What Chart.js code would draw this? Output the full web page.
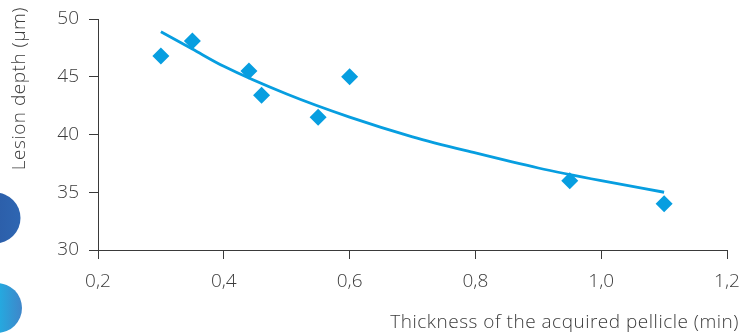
<!DOCTYPE html>
<html>
<head>
<meta charset="utf-8">
<script src="https://cdn.jsdelivr.net/npm/chart.js@4/dist/chart.umd.min.js"></script>
<style>
  html, body { margin: 0; padding: 0; background: #ffffff; }
  #wrap { width: 740px; height: 336px; position: relative; }
</style>
</head>
<body>
<div id="wrap"><canvas id="chart" width="740" height="336"></canvas></div>
<script>
// Measured samples: pellicle thickness vs. lesion depth
const pellicleThickness = [0.30, 0.35, 0.44, 0.46, 0.55, 0.60, 0.95, 1.10];
const lesionDepth       = [46.8, 48.1, 45.5, 43.4, 41.5, 45.0, 36.0, 34.0];

// Trend curve through the samples
const trendThickness = [0.30, 0.35, 0.40, 0.50, 0.60, 0.70, 0.80, 0.90, 1.00, 1.10];
const trendDepth     = [48.9, 47.4, 45.9, 43.5, 41.5, 39.8, 38.4, 37.1, 36.0, 35.0];

// Axis ticks
const xTicks = [0.2, 0.4, 0.6, 0.8, 1.0, 1.2];
const yTicks = [30, 35, 40, 45, 50];

const xTitle = 'Thickness of the acquired pellicle (min)';
const yTitle = 'Lesion depth (µm)';

const BLUE = '#079ee0';
const AXIS = '#3a3a3a';
const TEXT = '#3c3c3c';
const FONT = '"Open Sans", Lato, sans-serif';

const toPoints = (xs, ys) => xs.map((x, i) => ({ x: x, y: ys[i] }));

// Decorative discs at the left edge and the axis titles
const decor = {
  id: 'decor',
  beforeDraw(chart) {
    const ctx = chart.ctx;
    ctx.save();
    let g = ctx.createLinearGradient(-30, 0, 21, 0);
    g.addColorStop(0, '#2a56a0');
    g.addColorStop(1, '#2e66b2');
    ctx.fillStyle = g;
    ctx.beginPath();
    ctx.arc(-5, 218, 25.5, 0, Math.PI * 2);
    ctx.fill();

    g = ctx.createLinearGradient(-28, 0, 22, 0);
    g.addColorStop(0, '#14b6e6');
    g.addColorStop(0.5, '#22ade2');
    g.addColorStop(1, '#3f86c9');
    ctx.fillStyle = g;
    ctx.beginPath();
    ctx.arc(-3, 308, 25, 0, Math.PI * 2);
    ctx.fill();
    ctx.restore();
  },
  afterDraw(chart) {
    const ctx = chart.ctx;
    ctx.save();
    ctx.fillStyle = TEXT;
    ctx.font = '300 19px ' + FONT;
    if ('letterSpacing' in ctx) ctx.letterSpacing = '0.5px';
    ctx.textAlign = 'right';
    ctx.textBaseline = 'alphabetic';
    ctx.fillText(xTitle, 739, 328);

    ctx.translate(25, 7);
    ctx.rotate(-Math.PI / 2);
    ctx.textAlign = 'right';
    ctx.fillText(yTitle, 0, 0);
    ctx.restore();
  }
};

new Chart(document.getElementById('chart'), {
  type: 'scatter',
  data: {
    datasets: [
      {
        label: 'Samples',
        data: toPoints(pellicleThickness, lesionDepth),
        pointStyle: 'rectRot',
        pointRadius: 8.5,
        pointHoverRadius: 8.5,
        backgroundColor: BLUE,
        borderColor: BLUE,
        borderWidth: 0,
        order: 0
      },
      {
        type: 'line',
        label: 'Trend',
        data: toPoints(trendThickness, trendDepth),
        borderColor: BLUE,
        borderWidth: 2.8,
        pointRadius: 0,
        fill: false,
        tension: 0.4,
        cubicInterpolationMode: 'monotone',
        order: 1
      }
    ]
  },
  options: {
    responsive: false,
    animation: false,
    layout: { padding: { top: 19, right: 0, left: 0, bottom: 0 } },
    plugins: {
      legend: { display: false },
      tooltip: { enabled: false }
    },
    scales: {
      x: {
        type: 'linear',
        min: 0.2,
        max: 1.2,
        afterBuildTicks(scale) { scale.ticks = xTicks.map(v => ({ value: v })); },
        afterFit(scale) {
          scale.height = 86;
          scale.paddingLeft = 0;
          scale.paddingRight = 13;
        },
        border: { color: AXIS, width: 1 },
        grid: { drawOnChartArea: false, drawTicks: true, tickLength: 9, color: AXIS },
        ticks: {
          color: TEXT,
          padding: 11,
          font: { family: FONT, size: 19, weight: '300' },
          callback: v => v.toFixed(1).replace('.', ',')
        }
      },
      y: {
        type: 'linear',
        min: 30,
        max: 50,
        afterBuildTicks(scale) { scale.ticks = yTicks.map(v => ({ value: v })); },
        afterFit(scale) {
          scale.width = 98;
          scale.paddingTop = 0;
          scale.paddingBottom = 0;
        },
        border: { color: AXIS, width: 1 },
        grid: { drawOnChartArea: false, drawTicks: true, tickLength: 9, color: AXIS },
        ticks: {
          color: TEXT,
          padding: 10,
          font: { family: FONT, size: 19, weight: '300' },
          callback: v => String(v)
        }
      }
    }
  },
  plugins: [decor]
});
</script>
</body>
</html>
